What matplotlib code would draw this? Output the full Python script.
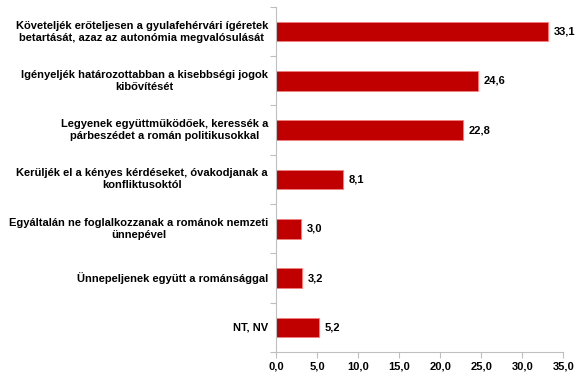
import numpy as np
import matplotlib.pyplot as plt
import matplotlib.transforms as mtransforms
from matplotlib.ticker import FuncFormatter

labels = [
    "Követeljék erőteljesen a gyulafehérvári ígéretek\nbetartását, azaz az autonómia megvalósulását",
    "Igényeljék határozottabban a kisebbségi jogok\nkibővítését",
    "Legyenek együttműködőek, keressék a\npárbeszédet a román politikusokkal",
    "Kerüljék el a kényes kérdéseket, óvakodjanak a\nkonfliktusoktól",
    "Egyáltalán ne foglalkozzanak a románok nemzeti\nünnepével",
    "Ünnepeljenek együtt a románsággal",
    "NT, NV",
]
values = [33.1, 24.6, 22.8, 8.1, 3.0, 3.2, 5.2]

plt.rcParams['font.family'] = ['Liberation Sans', 'DejaVu Sans']
plt.rcParams['font.weight'] = 'bold'

fig = plt.figure(figsize=(5.8, 3.81), dpi=100)
ax = fig.add_axes([0.476, 0.076, 0.495, 0.906])

pos = np.arange(len(values))
ax.barh(pos, values, height=0.4, color='#C00000', edgecolor='#F08080', linewidth=0.6)

for p, v in zip(pos, values):
    ax.text(v + 0.7, p, f"{v:.1f}".replace('.', ','), va='center', ha='left',
            fontsize=8, fontweight='bold')

# category labels: right-aligned block, lines centred
trans = mtransforms.blended_transform_factory(ax.transAxes, ax.transData) + \
    mtransforms.ScaledTranslation(-8 / 100, 0, fig.dpi_scale_trans)
for p, lab in zip(pos, labels):
    ax.text(0, p, lab, transform=trans, ha='right', va='center',
            multialignment='center', linespacing=1.25, fontsize=8, fontweight='bold')

ax.set_ylim(len(values) - 0.5, -0.5)
ax.set_xlim(0, 35)
ax.set_xticks(np.arange(0, 35.1, 5))
ax.xaxis.set_major_formatter(FuncFormatter(lambda x, _: f"{x:.1f}".replace('.', ',')))

ax.set_yticks(np.arange(-0.5, len(values), 1))
ax.set_yticklabels([])
ax.tick_params(axis='y', length=4, color='#BFBFBF', direction='out')
ax.tick_params(axis='x', length=4, color='#BFBFBF', labelsize=8, pad=3)

for s in ['top', 'right']:
    ax.spines[s].set_visible(False)
for s in ['left', 'bottom']:
    ax.spines[s].set_color('#BFBFBF')
    ax.spines[s].set_linewidth(0.8)

fig.savefig('out.png', dpi=100)
